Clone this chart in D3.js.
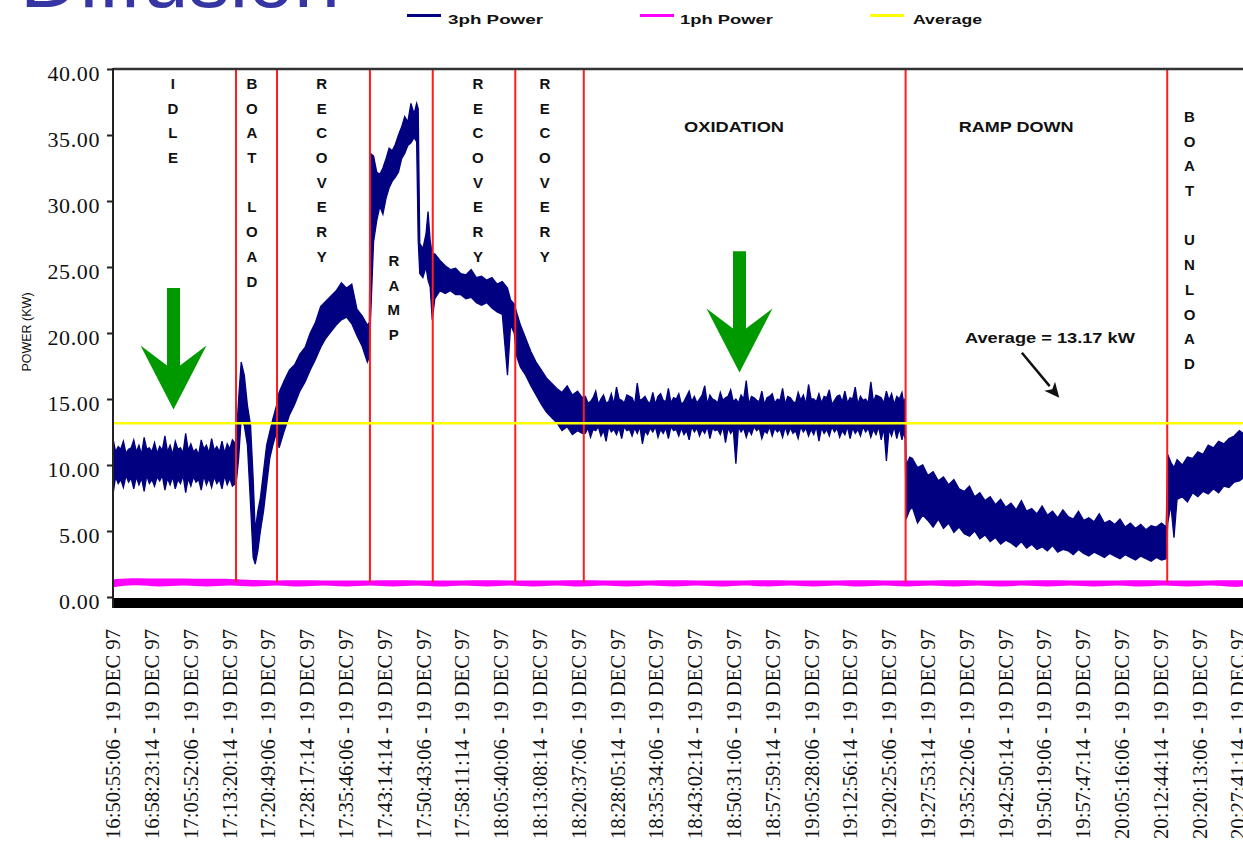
<!DOCTYPE html>
<html><head><meta charset="utf-8">
<script src="https://cdn.jsdelivr.net/npm/d3@7"></script>
<style>body{margin:0;background:#fff;}svg{display:block;}</style>
</head><body>
<svg id="c" width="1243" height="843"></svg>
<script>
// ---------------- DATA ----------------
const xTickTimes = ["16:50:55:06","16:58:23:14","17:05:52:06","17:13:20:14","17:20:49:06","17:28:17:14",
 "17:35:46:06","17:43:14:14","17:50:43:06","17:58:11:14","18:05:40:06","18:13:08:14","18:20:37:06",
 "18:28:05:14","18:35:34:06","18:43:02:14","18:50:31:06","18:57:59:14","19:05:28:06","19:12:56:14",
 "19:20:25:06","19:27:53:14","19:35:22:06","19:42:50:14","19:50:19:06","19:57:47:14","20:05:16:06",
 "20:12:44:14","20:20:13:06","20:27:41:14"];
const xTickDate = "19 DEC 97";
const yTicks = [0,5,10,15,20,25,30,35,40];

// 3ph power envelope: [minutes since 16:50:55, high kW, low kW]
const idle = [[0,12.0,7.8],[1,11.4,8.6],[2,11.8,8.3],[3,11.2,8.7],[4,11.9,8.2],[5,11.5,8.5],[6,12.1,8.0],
 [7,11.3,8.6],[8,11.7,8.4],[9,11.4,8.8],[10,12.2,8.1],[11,11.5,8.5],[12,11.8,8.2],[13,11.3,8.6],[14,12.4,7.9],
 [15,11.6,8.4],[16,11.2,8.7],[17,11.9,8.1],[18,11.5,8.5],[19,12.0,8.3],[20,11.4,8.6],[21,11.8,8.2],[22,11.6,8.5],
 [23,11.9,8.4],[23.6,11.6,8.6]];
const idleMid = [[0.5,11.0,9.1],[1.5,11.2,8.9],[2.5,10.9,9.2],[3.5,11.3,9.0],[4.5,11.0,9.1],[5.5,10.8,9.0],
 [6.5,11.2,9.2],[7.5,11.0,8.9],[8.5,10.9,9.1],[9.5,11.1,9.2],[10.5,11.0,9.0],[11.5,10.8,9.1],[12.5,11.2,8.9],
 [13.5,10.9,9.2],[14.5,11.1,9.0],[15.5,11.0,9.1],[16.5,10.8,8.9],[17.5,11.2,9.2],[18.5,10.9,9.0],[19.5,11.1,9.1],
 [20.5,11.0,8.9],[21.5,10.9,9.2],[22.5,11.2,9.0]];
const boatLoad = [[23.7,11.5,8.5],[24.2,15.0,10.5],[24.7,17.8,13.5],[25.3,16.8,13.0],[25.9,14.5,11.5],
 [26.5,13.0,7.0],[27.0,9.0,3.0],[27.4,5.0,2.5],[27.9,6.5,3.5],[28.4,7.5,5.0],[29.0,9.5,6.5],[29.6,11.5,8.5],
 [30.2,12.5,10.5],[30.8,13.5,11.5],[31.5,14.5,12.5]];
const recovery1 = [[32,15.5,11.3],[33,16.4,12.6],[34,17.2,13.8],[35,17.6,14.6],[36,18.4,15.6],[37,18.9,16.3],
 [38,20.0,17.2],[39,20.8,18.0],[40,22.0,18.9],[41,22.4,19.6],[42,22.8,20.1],[43,23.2,20.6],[44,23.8,21.0],
 [45,23.4,21.2],[46,23.7,20.7],[47,21.8,19.8],[48,21.3,19.0],[49,20.6,17.8],[49.4,20.8,18.2]];
const ramp = [[49.6,33.6,20.9],[50.2,33.4,26.9],[50.8,32.2,28.5],[51.4,32.0,29.6],[52.0,32.5,29.0],
 [52.6,33.2,30.2],[53.2,34.0,31.0],[53.8,33.8,31.5],[54.4,34.3,31.8],[55.0,35.0,32.2],[55.6,35.6,33.2],
 [56.2,36.4,33.6],[56.8,36.0,34.2],[57.4,37.4,34.4],[58.0,36.6,34.8],[58.5,37.4,34.5],[58.8,37.0,27.0],
 [59.1,26.8,24.5],[59.7,26.4,24.2],[60.3,27.5,25.0],[60.7,29.2,24.0],[61.1,27.0,23.5],[61.5,26.0,21.0]];
const recovery2 = [[62,26.0,22.6],[63,25.5,23.2],[64,25.1,23.0],[65,24.8,23.2],[66,24.9,22.9],[67,24.5,22.9],
 [68,24.4,22.6],[69,24.8,22.7],[70,24.2,22.3],[71,24.3,22.1],[72,24.0,22.3],[73,24.2,21.9],[74,23.7,21.6],
 [75,23.9,21.4],[76,23.4,16.8],[76.6,22.5,20.6],[77.3,22.2,20.0]];
const recovery3 = [[77.8,21.5,18.2],[78.5,20.6,17.4],[79.5,19.6,16.8],[80.5,18.6,16.0],[81.5,17.8,15.3],
 [82.5,17.2,14.6],[83.5,16.6,14.0],[84.5,16.2,13.6],[85.5,15.8,13.2],[86.5,15.5,12.6],[87.5,16.0,12.9],
 [88.5,15.3,12.3],[89.5,15.6,12.6],[90.4,15.1,12.4]];
const oxidation = [[91,15.2,12.4],[92,14.8,12.1],[93,15.6,12.6],[94,15.0,12.2],[95,14.7,11.8],[96,15.4,12.5],
 [97,15.9,12.3],[98,14.9,12.0],[99,15.3,12.6],[100,15.1,12.2],[101,16.2,12.4],[102,15.0,11.6],[103,14.8,12.3],
 [104,15.5,12.5],[105,15.2,12.1],[106,14.9,12.4],[107,15.8,12.0],[108,15.1,12.6],[109,15.4,12.2],[110,14.8,12.3],
 [111,15.6,11.9],[112,15.2,12.5],[113,15.0,12.2],[114,16.0,12.4],[115,15.3,12.0],[116,14.9,12.6],[117,15.5,12.3],
 [118,15.1,11.7],[119,15.7,12.4],[120,15.0,10.1],[121,15.3,12.5],[122,16.4,12.1],[123,15.2,12.3],[124,14.9,12.6],
 [125,15.6,12.0],[126,15.1,12.4],[127,15.4,12.2],[128,15.0,12.5],[129,15.8,12.1],[130,15.2,12.3],[131,14.8,12.4],
 [132,15.5,12.0],[133,15.3,12.5],[134,16.1,12.2],[135,15.0,12.3],[136,15.4,11.8],[137,15.2,12.4],[138,15.7,12.2],
 [139,14.9,12.5],[140,15.3,12.1],[141,15.6,12.3],[142,15.1,12.0],[143,15.9,12.4],[144,15.2,12.2],[145,15.0,12.5],
 [146,16.3,12.1],[147,15.3,12.3],[148,15.1,11.9],[149,15.6,10.3],[150,15.4,12.2],[151,15.2,12.0],[152,15.5,11.9],
 [152.6,15.0,12.0]];
const oxidationMid = [[91.5,14.7,12.8],[92.5,15.1,12.7],[93.5,14.6,12.9],[94.5,15.3,12.6],[95.5,14.8,12.9],
 [96.5,14.6,12.7],[97.5,15.0,12.8],[98.5,14.7,12.9],[99.5,15.2,12.7],[100.5,14.6,12.8],[101.5,14.9,12.9],
 [102.5,15.2,12.6],[103.5,14.7,12.8],[104.5,14.6,12.9],[105.5,15.4,12.7],[106.5,14.8,12.8],[107.5,14.7,12.9],
 [108.5,15.0,12.7],[109.5,14.6,12.8],[110.5,15.2,12.6],[111.5,14.8,12.9],[112.5,14.7,12.8],[113.5,15.3,12.7],
 [114.5,14.6,12.9],[115.5,15.0,12.8],[116.5,14.7,12.7],[117.5,14.9,12.9],[118.5,15.2,12.8],[119.5,14.8,12.7],
 [120.5,14.7,12.9],[121.5,15.0,12.8],[122.5,14.6,12.7],[123.5,15.1,12.9],[124.5,14.8,12.8],[125.5,14.6,12.6],
 [126.5,15.2,12.9],[127.5,14.7,12.8],[128.5,14.9,12.7],[129.5,14.6,12.9],[130.5,15.1,12.8],[131.5,14.7,12.6],
 [132.5,14.9,12.9],[133.5,14.6,12.8],[134.5,15.0,12.7],[135.5,14.8,12.9],[136.5,14.7,12.8],[137.5,15.1,12.7],
 [138.5,14.6,12.9],[139.5,15.2,12.8],[140.5,14.8,12.6],[141.5,14.7,12.9],[142.5,15.0,12.8],[143.5,14.6,12.7],
 [144.5,14.9,12.9],[145.5,14.7,12.8],[146.5,14.8,12.7],[147.5,15.2,12.9],[148.5,14.7,12.8],[149.5,14.9,12.7],
 [150.5,14.6,12.9],[151.5,15.0,12.8],[152.3,14.8,12.5]];
const rampDown = [[152.8,10.0,5.9],[153.5,10.6,6.6],[154,10.5,6.8],[155,9.8,5.6],[156,10.0,6.2],[157,9.2,5.8],
 [158,9.5,5.3],[159,8.8,5.9],[160,9.1,5.2],[161,8.5,5.6],[162,8.9,4.9],[163,8.2,5.3],[164,8.0,4.8],[165,8.4,4.6],
 [166,7.6,5.0],[167,7.9,4.4],[168,7.3,4.7],[169,7.6,4.2],[170,7.0,4.5],[171,7.4,4.0],[172,6.8,4.3],[173,7.1,4.1],
 [174,6.6,3.8],[175,7.3,4.2],[176,6.5,3.7],[177,6.7,4.0],[178,6.3,3.6],[179,6.9,3.8],[180,6.2,3.5],[181,6.5,3.9],
 [182,6.0,3.4],[183,6.6,3.6],[184,6.1,3.5],[185,5.9,3.2],[186,6.5,3.6],[187,5.8,3.3],[188,6.0,3.1],[189,5.7,3.4],
 [190,6.3,3.2],[191,5.6,3.0],[192,5.8,3.3],[193,5.5,3.1],[194,5.9,2.9],[195,5.3,3.2],[196,5.6,3.0],[197,5.2,2.8],
 [198,5.5,3.1],[199,5.1,2.9],[200,5.4,2.7],[201,5.3,3.0],[202,5.6,2.8],[202.9,5.3,2.9]];
const boatUnload = [[203.2,10.8,5.6],[203.8,10.2,7.0],[204.4,9.8,4.5],[205,10.4,7.4],[206,10.0,7.6],
 [207,10.6,7.2],[208,10.5,7.9],[209,11.0,7.6],[210,10.8,8.0],[211,11.5,7.8],[212,11.3,8.2],[213,11.8,7.9],
 [214,11.6,8.4],[215,12.0,8.3],[216,12.2,8.7],[217,12.6,8.8],[217.7,12.4,9.0]];

// 1ph power band: [minutes, high, low]
const onePh = [[0,1.35,0.74],[4.5,1.45,0.96],[9,1.38,0.72],[13.5,1.42,0.95],[18,1.36,0.73],[22.5,1.40,0.94],
 [27,1.27,0.72],[31.5,1.25,0.95],[36,1.27,0.71],[40.5,1.24,0.94],[45,1.26,0.72],[49.5,1.25,0.95],[54,1.27,0.72],
 [58.5,1.24,0.94],[63,1.26,0.71],[67.5,1.25,0.95],[72,1.27,0.72],[76.5,1.25,0.94],[81,1.26,0.72],[85.5,1.24,0.95],
 [90,1.27,0.71],[94.5,1.25,0.94],[99,1.26,0.72],[103.5,1.25,0.95],[108,1.27,0.72],[112.5,1.24,0.94],[117,1.26,0.71],
 [121.5,1.25,0.95],[126,1.27,0.72],[130.5,1.25,0.94],[135,1.26,0.72],[139.5,1.24,0.95],[144,1.27,0.71],
 [148.5,1.25,0.94],[153,1.26,0.72],[157.5,1.25,0.95],[162,1.27,0.72],[166.5,1.24,0.94],[171,1.26,0.71],
 [175.5,1.25,0.95],[180,1.27,0.72],[184.5,1.25,0.94],[189,1.26,0.72],[193.5,1.24,0.95],[198,1.27,0.71],
 [202.5,1.25,0.94],[207,1.26,0.72],[211.5,1.25,0.95],[216,1.27,0.72],[217.7,1.26,0.8]];

const averageKW = 13.17;
const phaseBounds = [23.7,31.6,49.5,61.6,77.5,90.7,152.7,203.1];
// vertical phase labels: text, centre minute, first-letter value (kW)
const phaseLabels = [["IDLE",11.55,38.9],["BOAT LOAD",26.75,38.9],["RECOVERY",40.2,38.9],["RAMP",54.1,25.5],
 ["RECOVERY",70.3,38.9],["RECOVERY",83.2,38.9],["BOAT UNLOAD",207.4,36.4]];
const phaseTitles = [["OXIDATION",119.65,35.6],["RAMP DOWN",174.0,35.6]];
const avgNote = {text:"Average = 13.17 kW", t:180.5, v:19.6, from:[175.1,18.5], to:[182.3,15.1]};
const greenArrows = [[11.66,23.4,14.2],[120.7,26.2,17.0]];
const legendNames = ["3ph Power","1ph Power","Average"];
const legendColors = ["#000080","#ff00ff","#ffff00"];

// ---------------- CHART ----------------
const svg = d3.select("#c");
const L = 113, R = 1243;
const x = d3.scaleLinear().domain([0,217.7]).range([L,R]);
const y = d3.scaleLinear().domain([0,40]).range([597,69]);

svg.append("text").attr("x",20).attr("y",7).attr("font-family","'Liberation Sans', Arial, sans-serif")
  .attr("font-size",82).attr("fill","#3535a3").attr("textLength",320).attr("lengthAdjust","spacingAndGlyphs")
  .text("Diffusion");

// legend
const legX = [407,640,870], legTX = [448,680,913], legTL = [95,93,69];
legendNames.forEach((n,i)=>{
  svg.append("line").attr("x1",legX[i]).attr("x2",legX[i]+34).attr("y1",15.5).attr("y2",15.5)
    .attr("stroke",legendColors[i]).attr("stroke-width",3);
  svg.append("text").attr("x",legTX[i]).attr("y",24).attr("font-family","'Liberation Sans', Arial, sans-serif")
    .attr("font-size",13).attr("font-weight","bold").attr("fill","#111")
    .attr("textLength",legTL[i]).attr("lengthAdjust","spacingAndGlyphs").text(n);
});

svg.append("defs").append("clipPath").attr("id","plot").append("rect")
  .attr("x",L).attr("y",60).attr("width",R-L).attr("height",540);
const g = svg.append("g").attr("clip-path","url(#plot)");

// 3ph power
const blue = [].concat(idle,idleMid,boatLoad,recovery1,ramp,recovery2,recovery3,oxidation,oxidationMid,rampDown,boatUnload)
  .sort((a,b)=>a[0]-b[0]);
g.append("path").datum(blue)
  .attr("d",d3.area().x(d=>x(d[0])).y0(d=>y(d[2])).y1(d=>y(d[1])))
  .attr("fill","#000080").attr("stroke","#000080").attr("stroke-width",1.3);

// 1ph power
g.append("path").datum(onePh)
  .attr("d",d3.area().curve(d3.curveBasis).x(d=>x(d[0])).y0(d=>y(d[2])).y1(d=>y(d[1])))
  .attr("fill","#ff00ff");

// phase boundaries
g.selectAll("line.ph").data(phaseBounds).join("line").attr("class","ph")
  .attr("x1",d=>x(d)).attr("x2",d=>x(d)).attr("y1",y(40)).attr("y2",y(1.1))
  .attr("stroke","#ff1c1c").attr("stroke-width",2);

// average
g.append("line").attr("x1",L).attr("x2",R).attr("y1",y(averageKW)).attr("y2",y(averageKW))
  .attr("stroke","#ffff00").attr("stroke-width",2.5);

// frame
svg.append("line").attr("x1",L).attr("x2",R).attr("y1",69).attr("y2",69).attr("stroke","#333").attr("stroke-width",2.5);
svg.append("rect").attr("x",L).attr("y",598).attr("width",R-L).attr("height",10).attr("fill","#000");
svg.append("line").attr("x1",L).attr("x2",L).attr("y1",68).attr("y2",608).attr("stroke","#222").attr("stroke-width",2);

// y axis
const yAxis = d3.axisLeft(y).tickValues(yTicks).tickFormat(d3.format(".2f")).tickSize(6).tickPadding(7);
const ya = svg.append("g").attr("transform",`translate(${L},0)`).call(yAxis);
ya.select(".domain").remove();
ya.selectAll(".tick line").attr("stroke","#222").attr("stroke-width",2);
ya.selectAll(".tick text").attr("font-family","'Liberation Serif', 'Times New Roman', serif")
  .attr("font-size",22).attr("fill","#111").attr("letter-spacing","0.6px").attr("dy","0.52em");
svg.append("text").attr("transform","translate(27,332) rotate(-90)").attr("text-anchor","middle")
  .attr("font-family","'Liberation Sans', Arial, sans-serif").attr("font-size",12.5).attr("fill","#111")
  .attr("dy","0.35em").text("POWER (KW)");

// x axis labels
function toMin(s){const p=s.split(":").map(Number);return p[0]*60+p[1]+p[2]/60+p[3]/6000;}
const t0 = toMin(xTickTimes[0]);
svg.append("g").selectAll("text").data(xTickTimes).join("text")
  .attr("transform",d=>`translate(${x(toMin(d)-t0)},629) rotate(-90)`)
  .attr("text-anchor","end").attr("dy","0.36em")
  .attr("font-family","'Liberation Serif', 'Times New Roman', serif").attr("font-size",20).attr("fill","#111")
  .attr("textLength",210).attr("lengthAdjust","spacingAndGlyphs")
  .text(d=>`${d} - ${xTickDate}`);

// phase labels (stacked letters)
const lineStep = 24.7;
phaseLabels.forEach(([txt,t,v])=>{
  txt.split("").forEach((ch,i)=>{
    if(ch===" ") return;
    svg.append("text").attr("x",x(t)).attr("y",y(v)+i*lineStep).attr("text-anchor","middle").attr("dy","0.36em")
      .attr("font-family","'Liberation Sans', Arial, sans-serif").attr("font-size",15).attr("font-weight","bold")
      .attr("fill","#111").text(ch);
  });
});
const titleLens = [100,115];
phaseTitles.forEach(([txt,t,v],i)=>{
  svg.append("text").attr("x",x(t)-titleLens[i]/2).attr("y",y(v)).attr("dy","0.36em")
    .attr("font-family","'Liberation Sans', Arial, sans-serif").attr("font-size",15).attr("font-weight","bold")
    .attr("fill","#111").attr("textLength",titleLens[i]).attr("lengthAdjust","spacingAndGlyphs").text(txt);
});

// average annotation
svg.append("text").attr("x",x(avgNote.t)-85).attr("y",y(avgNote.v)).attr("dy","0.36em")
  .attr("font-family","'Liberation Sans', Arial, sans-serif").attr("font-size",14).attr("font-weight","bold")
  .attr("fill","#111").attr("textLength",170).attr("lengthAdjust","spacingAndGlyphs").text(avgNote.text);
(function(){
  const x1=x(avgNote.from[0]), y1=y(avgNote.from[1]), x2=x(avgNote.to[0]), y2=y(avgNote.to[1]);
  const dx=x2-x1, dy=y2-y1, len=Math.hypot(dx,dy), ux=dx/len, uy=dy/len;
  const hl=15, hw=7, bx=x2-ux*hl, by=y2-uy*hl;
  svg.append("line").attr("x1",x1).attr("y1",y1).attr("x2",bx).attr("y2",by).attr("stroke","#111").attr("stroke-width",2.5);
  svg.append("path").attr("d",`M${x2},${y2}L${bx-uy*hw},${by+ux*hw}L${bx+ux*4},${by+uy*4}L${bx+uy*hw},${by-ux*hw}Z`).attr("fill","#111");
})();

// green arrows
greenArrows.forEach(([t,vTop,vTip])=>{
  const cx=x(t), yt=y(vTop), yp=y(vTip), sw=6.5, hw=33, outer=yp-64, notch=yp-44;
  svg.append("path").attr("d",`M${cx-sw},${yt}L${cx+sw},${yt}L${cx+sw},${notch}L${cx+hw},${outer}L${cx},${yp}L${cx-hw},${outer}L${cx-sw},${notch}Z`)
    .attr("fill","#009900");
});
</script>
</body></html>
